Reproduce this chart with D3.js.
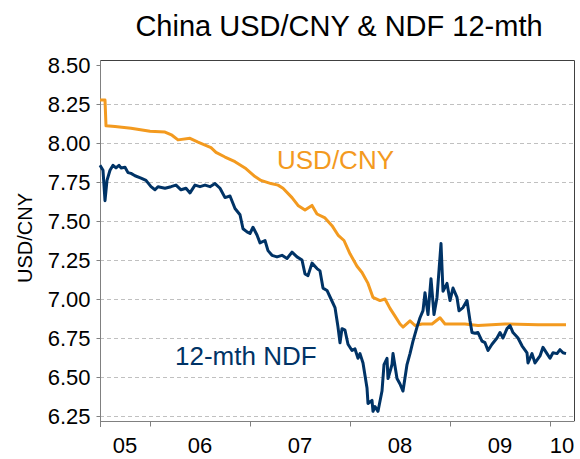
<!DOCTYPE html>
<html>
<head>
<meta charset="utf-8">
<script src="https://cdn.jsdelivr.net/npm/d3@7"></script>
<style>
html,body{margin:0;padding:0;background:#fff;}
svg{display:block;font-family:"Liberation Sans",Arial,sans-serif;}
</style>
</head>
<body>
<svg id="chart" width="580" height="459"></svg>
<script>
// ---- data (time in decimal years) ----
const cnyTime = [2005.50,2005.55,2005.56,2005.65,2005.81,2006.00,2006.15,2006.22,2006.28,2006.40,2006.48,
  2006.61,2006.66,2006.75,2006.85,2006.95,2007.05,2007.11,2007.21,2007.28,2007.33,2007.42,2007.48,2007.55,
  2007.62,2007.67,2007.75,2007.82,2007.88,2007.94,2008.00,2008.07,2008.12,2008.18,2008.23,2008.30,2008.35,
  2008.40,2008.45,2008.50,2008.53,2008.60,2008.65,2008.72,2008.82,2008.90,2008.95,2009.05,2009.15,2009.28,
  2009.55,2009.88,2010.16];
const cnyValue = [8.275,8.275,8.11,8.105,8.095,8.075,8.07,8.05,8.02,8.03,8.005,
  7.97,7.94,7.91,7.88,7.84,7.785,7.76,7.74,7.73,7.71,7.65,7.60,7.57,
  7.60,7.545,7.52,7.47,7.41,7.375,7.29,7.21,7.17,7.10,7.01,6.99,7.00,
  6.94,6.89,6.84,6.82,6.86,6.83,6.84,6.84,6.88,6.84,6.84,6.84,6.83,
  6.84,6.835,6.835];

const ndfTime = [2005.50,2005.53,2005.55,2005.57,2005.60,2005.63,2005.66,2005.69,2005.71,2005.75,2005.78,
  2005.81,2005.85,2005.91,2005.96,2006.01,2006.05,2006.08,2006.15,2006.21,2006.26,2006.31,2006.36,2006.40,
  2006.45,2006.50,2006.55,2006.60,2006.65,2006.70,2006.75,2006.80,2006.85,2006.90,2006.93,2006.97,2007.00,
  2007.03,2007.07,2007.10,2007.15,2007.18,2007.22,2007.27,2007.32,2007.37,2007.42,2007.47,2007.52,2007.55,
  2007.58,2007.62,2007.67,2007.70,2007.73,2007.77,2007.81,2007.85,2007.88,2007.90,2007.92,2007.95,2007.98,
  2008.02,2008.05,2008.08,2008.10,2008.13,2008.17,2008.18,2008.22,2008.23,2008.25,2008.28,2008.32,2008.34,
  2008.37,2008.38,2008.42,2008.43,2008.47,2008.50,2008.53,2008.57,2008.60,2008.63,2008.67,2008.70,2008.73,
  2008.75,2008.78,2008.81,2008.84,2008.87,2008.91,2008.93,2008.97,2009.00,2009.03,2009.07,2009.09,2009.13,
  2009.17,2009.20,2009.22,2009.25,2009.28,2009.32,2009.35,2009.38,2009.42,2009.47,2009.50,2009.53,2009.57,
  2009.60,2009.63,2009.68,2009.72,2009.77,2009.78,2009.82,2009.85,2009.90,2009.93,2009.97,2010.00,2010.03,
  2010.07,2010.10,2010.13,2010.16];
const ndfValue = [7.857,7.825,7.63,7.76,7.825,7.857,7.84,7.857,7.84,7.845,7.81,
  7.805,7.79,7.775,7.76,7.72,7.70,7.72,7.71,7.72,7.73,7.70,7.71,7.68,
  7.73,7.72,7.73,7.72,7.74,7.71,7.65,7.66,7.58,7.54,7.45,7.43,7.42,
  7.46,7.41,7.36,7.375,7.31,7.28,7.27,7.28,7.26,7.30,7.27,7.25,7.16,
  7.15,7.23,7.195,7.18,7.07,7.055,7.00,6.945,6.82,6.72,6.81,6.80,6.71,
  6.67,6.68,6.62,6.65,6.59,6.43,6.33,6.35,6.28,6.31,6.28,6.41,6.58,
  6.62,6.49,6.58,6.65,6.49,6.455,6.41,6.58,6.65,6.73,6.82,6.88,6.925,
  7.04,6.90,7.13,6.90,7.01,7.356,7.05,7.10,6.99,7.07,7.01,6.925,6.945,
  6.99,6.86,6.785,6.78,6.785,6.73,6.72,6.67,6.71,6.75,6.785,6.75,6.81,
  6.83,6.785,6.75,6.70,6.655,6.59,6.65,6.59,6.635,6.69,6.65,6.62,6.655,
  6.65,6.675,6.655,6.65];

const yTicks = [6.25,6.50,6.75,7.00,7.25,7.50,7.75,8.00,8.25,8.50];
const xTickTimes = [2005.5,2006,2007,2008,2009,2010];
const xLabels = ["05","06","07","08","09","10"];
const xLabelTimes = [2005.75,2006.5,2007.5,2008.5,2009.5,2010.12];

const title = "China USD/CNY & NDF 12-mth";
const yTitle = "USD/CNY";
const seriesLabels = [
  {text:"USD/CNY", t:2007.27, v:7.832, color:"#F39A1F"},
  {text:"12-mth NDF", t:2006.25, v:6.578, color:"#003366"}
];

// ---- layout ----
const svg = d3.select("#chart");
const L = 100, R = 574, T = 60, B = 421;
const x = d3.scaleLinear().domain([2005.5, 2010.24]).range([L, R]);
const y = d3.scaleLinear().domain([6.218, 8.532]).range([B, T]);

// gridlines
svg.append("g").selectAll("line").data(yTicks.filter(d => d < 8.5)).join("line")
  .attr("x1", L).attr("x2", R)
  .attr("y1", d => Math.round(y(d)) + 0.5).attr("y2", d => Math.round(y(d)) + 0.5)
  .attr("stroke", "#c0c0c0").attr("stroke-width", 1).attr("stroke-dasharray", "4,3");

// frame (top/right)
svg.append("path")
  .attr("d", `M${L},${T+0.5}H${R+0.5}V${B}`)
  .attr("fill", "none").attr("stroke", "#404040").attr("stroke-width", 1);

// y axis
const yAxis = d3.axisLeft(y).tickValues(yTicks).tickFormat(d3.format(".2f")).tickSize(4).tickPadding(6);
const gy = svg.append("g").attr("transform", `translate(${L+0.5},0)`).call(yAxis);
gy.select(".domain").attr("stroke", "#808080").attr("d", `M0,${T}V${B+6}`);
gy.selectAll(".tick line").attr("stroke", "#808080");
gy.selectAll(".tick text").attr("font-size", 22).attr("font-family", "Liberation Sans, Arial, sans-serif")
  .attr("fill", "#000").attr("dy", "0.36em");

// x axis
const xAxis = d3.axisBottom(x).tickValues(xTickTimes).tickFormat("").tickSize(5);
const gx = svg.append("g").attr("transform", `translate(0,${B+0.5})`).call(xAxis);
gx.select(".domain").attr("stroke", "#808080").attr("d", `M${L},0H${R+0.5}`);
gx.selectAll(".tick line").attr("stroke", "#808080");

svg.append("g").selectAll("text").data(xLabels).join("text")
  .attr("x", (d, i) => x(xLabelTimes[i])).attr("y", 453)
  .attr("text-anchor", "middle").attr("font-size", 22).attr("fill", "#000")
  .text(d => d);

// lines
const line = d3.line().x(d => x(d[0])).y(d => y(d[1]));
svg.append("path").datum(d3.zip(cnyTime, cnyValue))
  .attr("d", line).attr("fill", "none").attr("stroke", "#F39A1F")
  .attr("stroke-width", 3).attr("stroke-linejoin", "round");
svg.append("path").datum(d3.zip(ndfTime, ndfValue))
  .attr("d", line).attr("fill", "none").attr("stroke", "#003366")
  .attr("stroke-width", 3).attr("stroke-linejoin", "round");

// series labels
svg.append("g").selectAll("text").data(seriesLabels).join("text")
  .attr("x", d => x(d.t)).attr("y", d => y(d.v))
  .attr("font-size", 26).attr("fill", d => d.color).text(d => d.text);

// title
svg.append("text").attr("x", 339).attr("y", 36).attr("text-anchor", "middle")
  .attr("font-size", 29).attr("fill", "#000").text(title);

// y title
svg.append("text").attr("transform", "translate(32,238) rotate(-90)")
  .attr("text-anchor", "middle").attr("font-size", 20).attr("fill", "#000").text(yTitle);
</script>
</body>
</html>
